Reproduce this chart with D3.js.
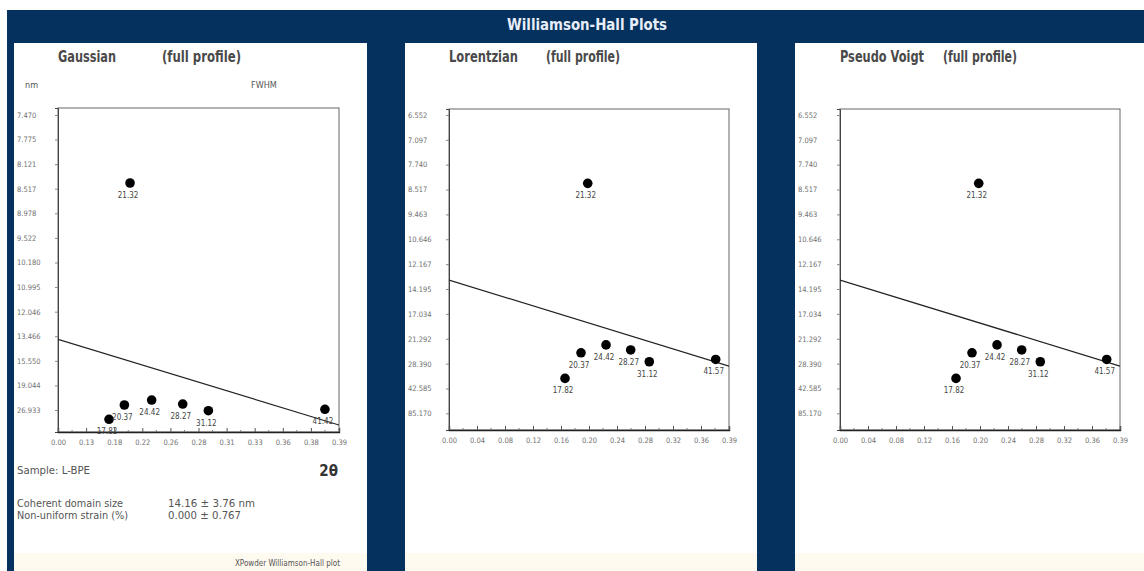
<!DOCTYPE html>
<html>
<head>
<meta charset="utf-8">
<script src="https://cdn.jsdelivr.net/npm/d3@7"></script>
<style>
  body { margin: 0; background: #fff; }
  svg { display: block; }
  text { font-family: "Liberation Sans Narrow", "Arial Narrow", "DejaVu Sans Condensed", "Liberation Sans", Arial, sans-serif; }
</style>
</head>
<body>
<svg id="chart" width="1144" height="571"></svg>
<script>
// Peak positions (2θ, degrees) used as point labels
const peakLabelsG = ["17.82", "20.37", "21.32", "24.42", "28.27", "31.12", "41.42"];
const peakLabelsLP = ["17.82", "20.37", "21.32", "24.42", "28.27", "31.12", "41.57"];

// Gaussian: x = sin²θ, y = 1/D² (D = apparent size, nm)
const gaussX = [0.0243, 0.0316, 0.0343, 0.0446, 0.0594, 0.0716, 0.1271];
const gaussSize = [34.15, 24.55, 8.42, 22.71, 24.15, 27.32, 26.56];
const gaussFitX = [0, 0.1338];
const gaussFitSize = [13.69, 43.1];
const gaussYTicks = ["7.470", "7.775", "8.121", "8.517", "8.978", "9.522", "10.180", "10.995", "12.046", "13.466", "15.550", "19.044", "26.933"];
const gaussXTicks = ["0.00", "0.13", "0.18", "0.22", "0.26", "0.28", "0.31", "0.33", "0.36", "0.38", "0.39"];

// Lorentzian: x = sinθ, y = 1/D
const lorentzX = [0.1553, 0.1767, 0.1857, 0.2102, 0.2432, 0.2681, 0.3570];
const lorentzSize = [35.4, 24.8, 8.31, 22.7, 24.0, 27.7, 26.9];
const lorentzFitX = [0, 0.3748];
const lorentzFitSize = [13.39, 29.37];

// Pseudo Voigt: x = sinθ, y = 1/D
const voigtX = [0.1553, 0.1767, 0.1857, 0.2102, 0.2432, 0.2681, 0.3570];
const voigtSize = [35.4, 24.8, 8.31, 22.7, 24.0, 27.7, 26.9];
const voigtFitX = [0, 0.3748];
const voigtFitSize = [13.39, 29.37];

const lpYTicks = ["6.552", "7.097", "7.740", "8.517", "9.463", "10.646", "12.167", "14.195", "17.034", "21.292", "28.390", "42.585", "85.170"];
const lpXTicks = ["0.00", "0.04", "0.08", "0.12", "0.16", "0.20", "0.24", "0.28", "0.32", "0.36", "0.39"];

const NAVY = "#05315f";
const svg = d3.select("#chart");

// page background: navy field with a thin white margin on top and left
svg.append("rect").attr("x", 0).attr("y", 0).attr("width", 1144).attr("height", 571).attr("fill", "#fff");
svg.append("rect").attr("x", 7).attr("y", 10).attr("width", 1137).attr("height", 561).attr("fill", NAVY);

svg.append("text")
  .attr("x", 587).attr("y", 30)
  .attr("text-anchor", "middle")
  .attr("fill", "#e8eef8")
  .attr("font-weight", "bold")
  .attr("font-size", 16)
  .attr("textLength", 160).attr("lengthAdjust", "spacingAndGlyphs")
  .text("Williamson-Hall Plots");

const panels = [
  {
    name: "Gaussian", nameW: 58, profW: 79, profX: 148,
    box: [14, 353], frame: { x0: 58, x1: 339, y0: 108, y1: 432 },
    xs: gaussX, sizes: gaussSize, labels: peakLabelsG,
    fitX: gaussFitX, fitSize: gaussFitSize,
    xMax: 0.1338, yExp: -2, yDomain: [82.7, 7.39],
    yTicks: gaussYTicks, xTicks: gaussXTicks
  },
  {
    name: "Lorentzian", nameW: 69, profW: 74, profX: 546 - 405,
    box: [405, 352], frame: { x0: 449, x1: 729, y0: 109, y1: 430 },
    xs: lorentzX, sizes: lorentzSize, labels: peakLabelsLP,
    fitX: lorentzFitX, fitSize: lorentzFitSize,
    xMax: 0.3748, yExp: -1, yDomain: [258, 6.433],
    yTicks: lpYTicks, xTicks: lpXTicks
  },
  {
    name: "Pseudo Voigt", nameW: 84, profW: 74, profX: 943 - 795,
    box: [795, 349], frame: { x0: 840, x1: 1120, y0: 109, y1: 430 },
    xs: voigtX, sizes: voigtSize, labels: peakLabelsLP,
    fitX: voigtFitX, fitSize: voigtFitSize,
    xMax: 0.3748, yExp: -1, yDomain: [258, 6.433],
    yTicks: lpYTicks, xTicks: lpXTicks
  }
];

panels.forEach((p, pi) => {
  const [bx, bw] = p.box;
  const g = svg.append("g");
  g.append("rect").attr("x", bx).attr("y", 43).attr("width", bw).attr("height", 528).attr("fill", "#fff");
  g.append("rect").attr("x", bx).attr("y", 553).attr("width", bw).attr("height", 18).attr("fill", "#fffaf0");

  // panel heading
  g.append("text").attr("x", p.frame.x0).attr("y", 62)
    .attr("font-size", 15).attr("font-weight", "bold").attr("fill", "#4a4a4a")
    .attr("textLength", p.nameW).attr("lengthAdjust", "spacingAndGlyphs")
    .text(p.name);
  g.append("text").attr("x", bx + p.profX).attr("y", 62)
    .attr("font-size", 15).attr("font-weight", "bold").attr("fill", "#4a4a4a")
    .attr("textLength", p.profW).attr("lengthAdjust", "spacingAndGlyphs")
    .text("(full profile)");

  const f = p.frame;
  const x = d3.scaleLinear().domain([0, p.xMax]).range([f.x0, f.x1]);
  const y = d3.scalePow().exponent(p.yExp).domain(p.yDomain).range([f.y1, f.y0]);

  const clipId = "clip" + pi;
  g.append("clipPath").attr("id", clipId)
    .append("rect").attr("x", f.x0).attr("y", f.y0).attr("width", f.x1 - f.x0).attr("height", f.y1 - f.y0);

  // frame
  g.append("rect").attr("x", f.x0).attr("y", f.y0).attr("width", f.x1 - f.x0).attr("height", f.y1 - f.y0)
    .attr("fill", "none").attr("stroke", "#666").attr("stroke-width", 1);

  // y axis: ticks at the listed crystallite sizes
  const yAxis = d3.axisLeft(y)
    .tickValues(p.yTicks.map(Number))
    .tickFormat((d, i) => p.yTicks[i])
    .tickSize(3).tickPadding(0);
  const ya = g.append("g").attr("transform", `translate(${f.x0},0)`).call(yAxis);
  ya.select(".domain").attr("stroke", "#444");
  ya.selectAll(".tick line").attr("stroke", "#888");
  ya.selectAll(".tick text")
    .attr("text-anchor", "start")
    .attr("x", bx + 3 - f.x0)
    .attr("font-size", 7.5).attr("fill", "#707070")
    .attr("font-family", null);

  // x axis: evenly spaced ticks, labelled from the tick list
  const xTickVals = p.xTicks.map((_, i) => p.xMax * i / (p.xTicks.length - 1));
  const xAxis = d3.axisBottom(x)
    .tickValues(xTickVals)
    .tickFormat((d, i) => p.xTicks[i])
    .tickSize(-4).tickPadding(8);
  const xa = g.append("g").attr("transform", `translate(0,${f.y1})`).call(xAxis);
  xa.select(".domain").attr("stroke", "#222").attr("stroke-width", 1.4);
  xa.selectAll(".tick line").attr("stroke", "#555");
  xa.selectAll(".tick text").attr("font-size", 7.5).attr("fill", "#707070").attr("font-family", null);

  // minor ticks along the x axis
  const minor = d3.range(xTickVals.length - 1).map(i => (xTickVals[i] + xTickVals[i + 1]) / 2);
  g.append("g").selectAll("line").data(minor).join("line")
    .attr("x1", d => x(d)).attr("x2", d => x(d))
    .attr("y1", f.y1).attr("y2", f.y1 - 2)
    .attr("stroke", "#777");

  // fitted line
  const fit = p.fitX.map((v, i) => [v, p.fitSize[i]]);
  g.append("path")
    .attr("clip-path", `url(#${clipId})`)
    .attr("d", d3.line().x(d => x(d[0])).y(d => y(d[1]))(fit))
    .attr("fill", "none").attr("stroke", "#222").attr("stroke-width", 1.2);

  // reflections
  const pts = p.xs.map((v, i) => ({ x: v, s: p.sizes[i], lab: p.labels[i] }));
  g.append("g").selectAll("circle").data(pts).join("circle")
    .attr("cx", d => x(d.x)).attr("cy", d => y(d.s)).attr("r", 4.8)
    .attr("fill", "#000");
  g.append("g").selectAll("text").data(pts).join("text")
    .attr("x", d => x(d.x) - 2).attr("y", d => y(d.s) + 15)
    .attr("text-anchor", "middle")
    .attr("font-size", 8).attr("fill", "#444")
    .text(d => d.lab);
});

// Gaussian panel annotations
const info = svg.append("g").attr("fill", "#555");
info.append("text").attr("x", 25).attr("y", 88).attr("font-size", 9).text("nm");
info.append("text").attr("x", 251).attr("y", 88).attr("font-size", 9).text("FWHM");
info.append("text").attr("x", 17).attr("y", 474).attr("font-size", 11)
  .attr("textLength", 73).attr("lengthAdjust", "spacingAndGlyphs").text("Sample: L-BPE");
info.append("text").attr("x", 338).attr("y", 476).attr("font-size", 15).attr("font-weight", "bold")
  .attr("text-anchor", "end").attr("fill", "#333").text("2θ");
info.append("text").attr("x", 17).attr("y", 507).attr("font-size", 11)
  .attr("textLength", 106).attr("lengthAdjust", "spacingAndGlyphs").text("Coherent domain size");
info.append("text").attr("x", 168).attr("y", 507).attr("font-size", 11)
  .attr("textLength", 87).attr("lengthAdjust", "spacingAndGlyphs").text("14.16 ± 3.76 nm");
info.append("text").attr("x", 17).attr("y", 519).attr("font-size", 11)
  .attr("textLength", 111).attr("lengthAdjust", "spacingAndGlyphs").text("Non-uniform strain (%)");
info.append("text").attr("x", 168).attr("y", 519).attr("font-size", 11)
  .attr("textLength", 73).attr("lengthAdjust", "spacingAndGlyphs").text("0.000 ± 0.767");
info.append("text").attr("x", 340).attr("y", 566).attr("font-size", 8)
  .attr("text-anchor", "end").text("XPowder Williamson-Hall plot");
</script>
</body>
</html>
